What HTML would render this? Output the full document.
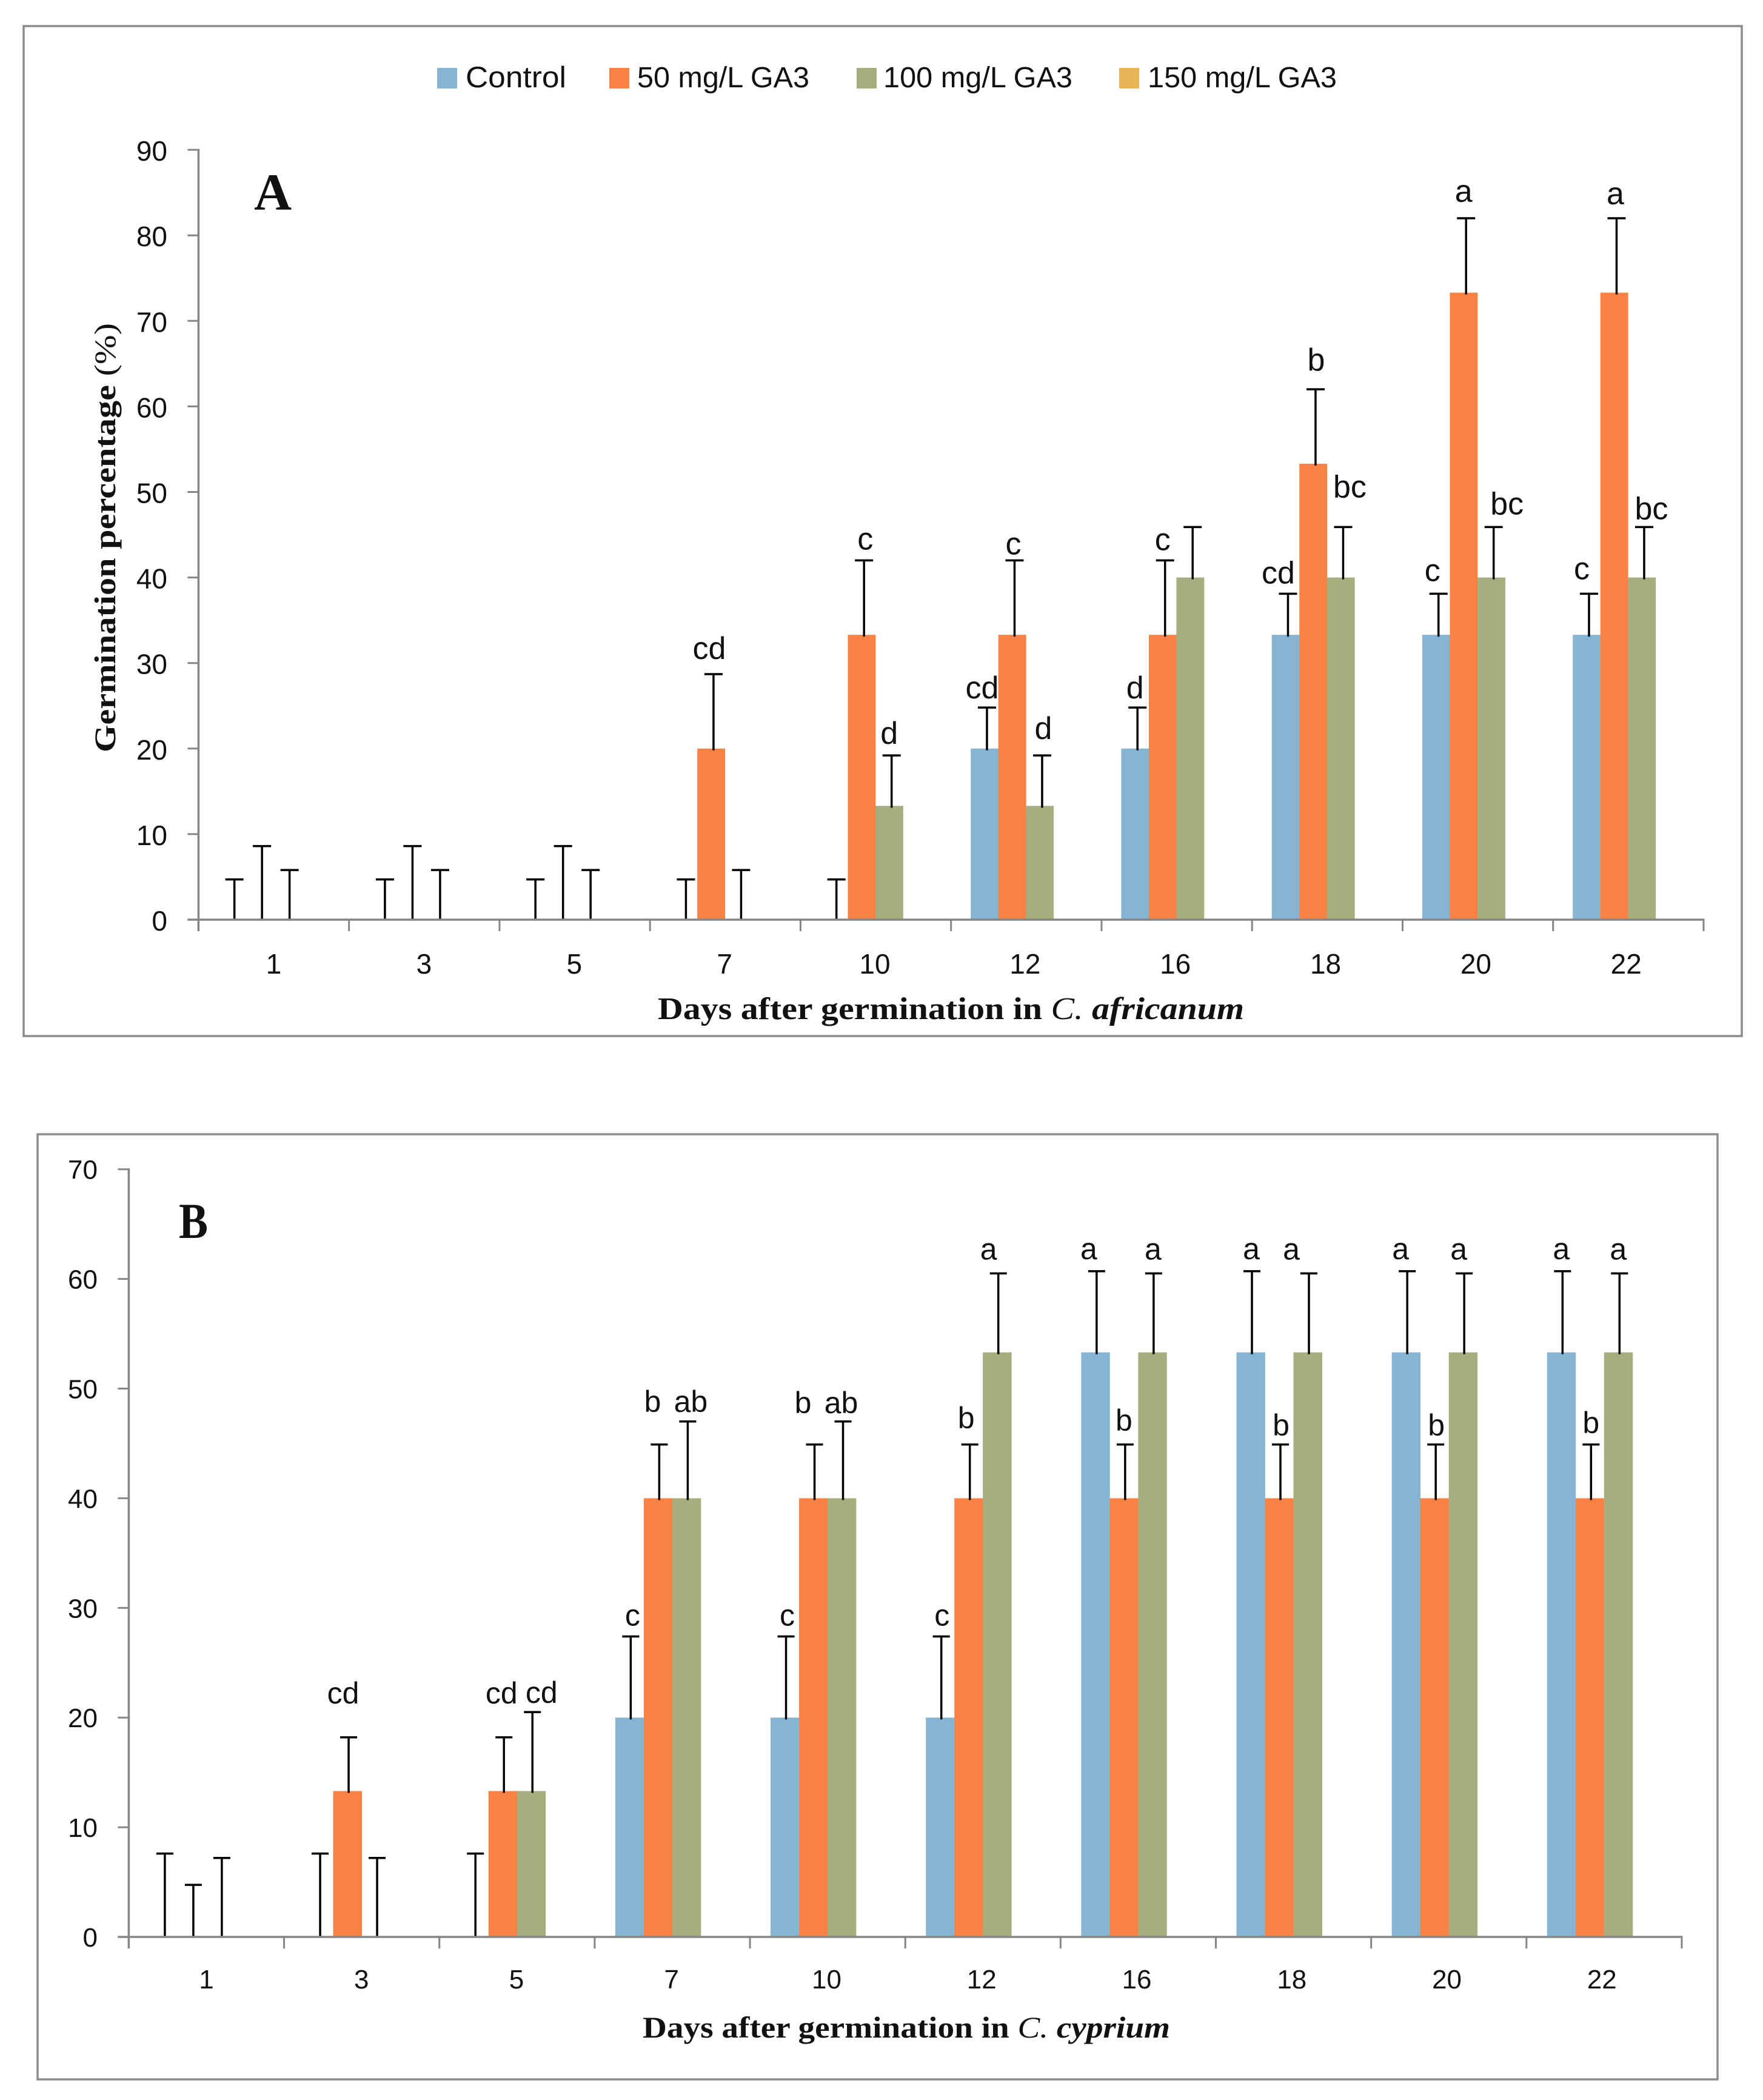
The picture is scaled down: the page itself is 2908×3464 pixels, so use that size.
<!DOCTYPE html>
<html lang="en">
<head>
<meta charset="utf-8">
<title>Germination percentage charts</title>
<style>
html,body{margin:0;padding:0;background:#fff;}
svg{display:block;}
text{fill:#111;}
.sans{font-family:"Liberation Sans",sans-serif;}
.serif{font-family:"Liberation Serif",serif;}
</style>
</head>
<body>
<svg id="figure" xmlns="http://www.w3.org/2000/svg" width="2908" height="3464" viewBox="0 0 2908 3464">
  <rect x="0" y="0" width="2908" height="3464" fill="#ffffff"/>

  <g id="panel-a">
    <rect x="39" y="43" width="2834" height="1666" fill="#fff" stroke="#8c8c8c" stroke-width="3.5"/>
    <g>
      <g>
        <rect x="721" y="112" width="33" height="34" fill="#86B4D3"/>
        <text class="sans" x="768" y="144" font-size="49" textLength="166" lengthAdjust="spacingAndGlyphs">Control</text>
      </g>
      <g>
        <rect x="1005" y="112" width="33" height="34" fill="#F88243"/>
        <text class="sans" x="1051" y="144" font-size="48" textLength="284" lengthAdjust="spacingAndGlyphs">50 mg/L GA3</text>
      </g>
      <g>
        <rect x="1413" y="112" width="33" height="34" fill="#A6AD7F"/>
        <text class="sans" x="1457" y="144" font-size="48" textLength="312" lengthAdjust="spacingAndGlyphs">100 mg/L GA3</text>
      </g>
      <g>
        <rect x="1846" y="112" width="33" height="34" fill="#E8B557"/>
        <text class="sans" x="1893" y="144" font-size="48" textLength="312" lengthAdjust="spacingAndGlyphs">150 mg/L GA3</text>
      </g>
    </g>
    <text class="serif" x="419" y="346" font-size="86" font-weight="bold">A</text>
    <text class="serif" transform="translate(190,1241) rotate(-90)" font-size="50" font-weight="bold" textLength="708" lengthAdjust="spacingAndGlyphs">Germination percentage <tspan font-weight="normal">(%)</tspan></text>
    <text class="serif" x="1085" y="1681" font-size="52" font-weight="bold" textLength="967" lengthAdjust="spacingAndGlyphs">Days after germination in <tspan font-weight="normal" font-style="italic">C. </tspan><tspan font-style="italic">africanum</tspan></text>
    <g id="plot-a"></g>
  </g>

  <g id="panel-b">
    <rect x="62" y="1871" width="2771" height="1559" fill="#fff" stroke="#8c8c8c" stroke-width="3.5"/>
    <text class="serif" x="295" y="2042" font-size="83" font-weight="bold" textLength="48" lengthAdjust="spacingAndGlyphs">B</text>
    <text class="serif" x="1060" y="3361" font-size="50" font-weight="bold" textLength="870" lengthAdjust="spacingAndGlyphs">Days after germination in <tspan font-weight="normal" font-style="italic">C. </tspan><tspan font-style="italic">cyprium</tspan></text>
    <g id="plot-b"></g>
  </g>
</svg>

<script>
// ---- shared data ----
const days = ['1', '3', '5', '7', '10', '12', '16', '18', '20', '22'];
const seriesKeys = ['control', '50-mg', '100-mg'];

// ---- panel A data (C. africanum) ----
const ticksA = [0, 10, 20, 30, 40, 50, 60, 70, 80, 90];
const controlA = [0, 0, 0, 0, 0, 20, 20, 33.3, 33.3, 33.3];
const mg50A = [0, 0, 0, 20, 33.3, 33.3, 33.3, 53.3, 73.3, 73.3];
const mg100A = [0, 0, 0, 0, 13.3, 13.3, 40, 40, 40, 40];
const errControlA = [4.7, 4.7, 4.7, 4.7, 4.7, 4.8, 4.8, 4.8, 4.8, 4.8];
const errMg50A = [8.6, 8.6, 8.6, 8.7, 8.7, 8.7, 8.7, 8.7, 8.7, 8.7];
const errMg100A = [5.8, 5.8, 5.8, 5.8, 5.9, 5.9, 5.9, 5.9, 5.9, 5.9];
const lettersControlA = ['', '', '', '', '', 'cd', 'd', 'cd', 'c', 'c'];
const lettersMg50A = ['', '', '', 'cd', 'c', 'c', 'c', 'b', 'a', 'a'];
const lettersMg100A = ['', '', '', '', 'd', 'd', '', 'bc', 'bc', 'bc'];

// ---- panel B data (C. cyprium) ----
const ticksB = [0, 10, 20, 30, 40, 50, 60, 70];
const controlB = [0, 0, 0, 20, 20, 20, 53.3, 53.3, 53.3, 53.3];
const mg50B = [0, 13.3, 13.3, 40, 40, 40, 40, 40, 40, 40];
const mg100B = [0, 0, 13.3, 40, 40, 53.3, 53.3, 53.3, 53.3, 53.3];
const errControlB = [7.6, 7.6, 7.6, 7.4, 7.4, 7.4, 7.4, 7.4, 7.4, 7.4];
const errMg50B = [4.75, 4.9, 4.9, 4.9, 4.9, 4.9, 4.9, 4.9, 4.9, 4.9];
const errMg100B = [7.2, 7.2, 7.2, 7, 7, 7.2, 7.2, 7.2, 7.2, 7.2];
const lettersControlB = ['', '', '', 'c', 'c', 'c', 'a', 'a', 'a', 'a'];
const lettersMg50B = ['', 'cd', 'cd', 'b', 'b', 'b', 'b', 'b', 'b', 'b'];
const lettersMg100B = ['', '', 'cd', 'ab', 'ab', 'a', 'a', 'a', 'a', 'a'];

// ---- layout (not data) ----
const seriesColors = ['#86B4D3', '#F88243', '#A6AD7F'];
const layoutA = {
  prefix: 'panel-a', axisX: 327.4, axisRight: 2810, y0: 1517, unit: 14.11,
  barOffset: 32.5, barWidth: 45.5, errShift: 4, capHalf: 15,
  tickFont: 46, tickRight: 276, tickBase: 18, catLabelY: 1606, catFont: 46, catShift: 0, letterFont: 52,
  nudge: {
    '3-1': [-3, 25], '4-1': [6, 18], '4-2': [0, 19], '5-0': [-4, 15], '5-1': [2, 10], '5-2': [6, 27],
    '6-0': [0, 15], '6-1': [0, 17], '7-0': [-12, 17], '7-1': [5, 31], '7-2': [15, 49],
    '8-0': [-6, 21], '8-1': [0, 27], '8-2': [26, 21], '9-0': [-8, 24], '9-1': [2, 23], '9-2': [16, 13]
  }
};
const layoutB = {
  prefix: 'panel-b', axisX: 212.4, axisRight: 2774, y0: 3195, unit: 18.09,
  barOffset: 34, barWidth: 47, errShift: 2, capHalf: 14,
  tickFont: 44, tickRight: 161, tickBase: 16, catLabelY: 3280, catFont: 44, catShift: 0, letterFont: 50,
  nudge: {
    '1-1': [-7, 56], '2-1': [-2, 56], '2-2': [17, 15], '3-0': [5, 18], '3-1': [-9, 54], '3-2': [7, 16],
    '4-0': [4, 18], '4-1': [-17, 52], '4-2': [-1, 14], '5-0': [3, 18], '5-1': [-4, 27], '5-2': [-14, 23],
    '6-0': [-11, 20], '6-1': [0, 23], '6-2': [1, 23], '7-0': [1, 20], '7-1': [3, 15], '7-2': [-27, 23],
    '8-0': [-9, 20], '8-1': [3, 15], '8-2': [-7, 23], '9-0': [0, 20], '9-1': [2, 19], '9-2': [0, 23]
  }
};

const SVGNS = 'http://www.w3.org/2000/svg';
function make(parent, tag, attrs) {
  const node = document.createElementNS(SVGNS, tag);
  for (const k in attrs) node.setAttribute(k, attrs[k]);
  parent.appendChild(node);
  return node;
}

function drawPanel(rootId, L, ticks, values, errors, letters) {
  const root = document.getElementById(rootId);
  const yOf = v => L.y0 - L.unit * v;
  const step = (L.axisRight - L.axisX) / days.length;
  const barX = (c, s) => L.axisX + step * c + L.barOffset + L.barWidth * s;
  const errX = (c, s) => barX(c, s) + L.barWidth / 2 + L.errShift;

  // bars
  values.forEach((series, s) => {
    series.forEach((v, c) => {
      if (v <= 0) return;
      const bar = make(root, 'rect', {x: barX(c, s), y: yOf(v), width: L.barWidth + 0.4, height: L.y0 - yOf(v), fill: seriesColors[s]});
      
      
    });
  });

  // error bars
  errors.forEach((series, s) => {
    series.forEach((e, c) => {
      const x = errX(c, s);
      const top = yOf(values[s][c] + e);
      const bottom = values[s][c] > 0 ? yOf(values[s][c]) + 3 : L.y0;
      const g = make(root, 'path', {d: 'M' + x + ' ' + bottom + 'V' + top + 'M' + (x - L.capHalf) + ' ' + top + 'H' + (x + L.capHalf), stroke: '#000', 'stroke-width': 3.5, fill: 'none'});
      
      
    });
  });

  // axes
  const yAxis = make(root, 'line', {x1: L.axisX, x2: L.axisX, y1: yOf(ticks[ticks.length - 1]) - 1.5, y2: L.y0 + 19, stroke: '#868686', 'stroke-width': 3.5});
  
  
  const xAxis = make(root, 'line', {x1: L.axisX - 18, x2: L.axisRight + 1.5, y1: L.y0, y2: L.y0, stroke: '#868686', 'stroke-width': 3.5});
  
  

  ticks.forEach(t => {
    const y = yOf(t);
    const mark = make(root, 'line', {x1: L.axisX - 18, x2: L.axisX, y1: y, y2: y, stroke: '#868686', 'stroke-width': 3});
    
    
    const label = make(root, 'text', {x: L.tickRight, y: y + L.tickBase, 'text-anchor': 'end', 'font-size': L.tickFont, class: 'sans'});
    label.textContent = String(t);
    
    
  });

  for (let c = 0; c <= days.length; c++) {
    const x = L.axisX + step * c;
    const mark = make(root, 'line', {x1: x, x2: x, y1: L.y0, y2: L.y0 + 19, stroke: '#868686', 'stroke-width': 3});
    
    
  }
  days.forEach((d, c) => {
    const label = make(root, 'text', {x: L.axisX + step * (c + 0.5) - c * 0.4 + L.catShift, y: L.catLabelY, 'text-anchor': 'middle', 'font-size': L.catFont, class: 'sans'});
    label.textContent = d;
    
    
  });

  // significance letters
  letters.forEach((series, s) => {
    series.forEach((txt, c) => {
      if (!txt) return;
      const n = L.nudge[c + '-' + s] || [0, 20];
      const top = yOf(values[s][c] + errors[s][c]);
      const label = make(root, 'text', {x: barX(c, s) + L.barWidth / 2 + n[0], y: top - n[1], 'text-anchor': 'middle', 'font-size': L.letterFont, class: 'sans'});
      label.textContent = txt;
      
      
    });
  });
}

drawPanel('plot-a', layoutA, ticksA,
  [controlA, mg50A, mg100A],
  [errControlA, errMg50A, errMg100A],
  [lettersControlA, lettersMg50A, lettersMg100A]);
drawPanel('plot-b', layoutB, ticksB,
  [controlB, mg50B, mg100B],
  [errControlB, errMg50B, errMg100B],
  [lettersControlB, lettersMg50B, lettersMg100B]);
</script>
</body>
</html>
